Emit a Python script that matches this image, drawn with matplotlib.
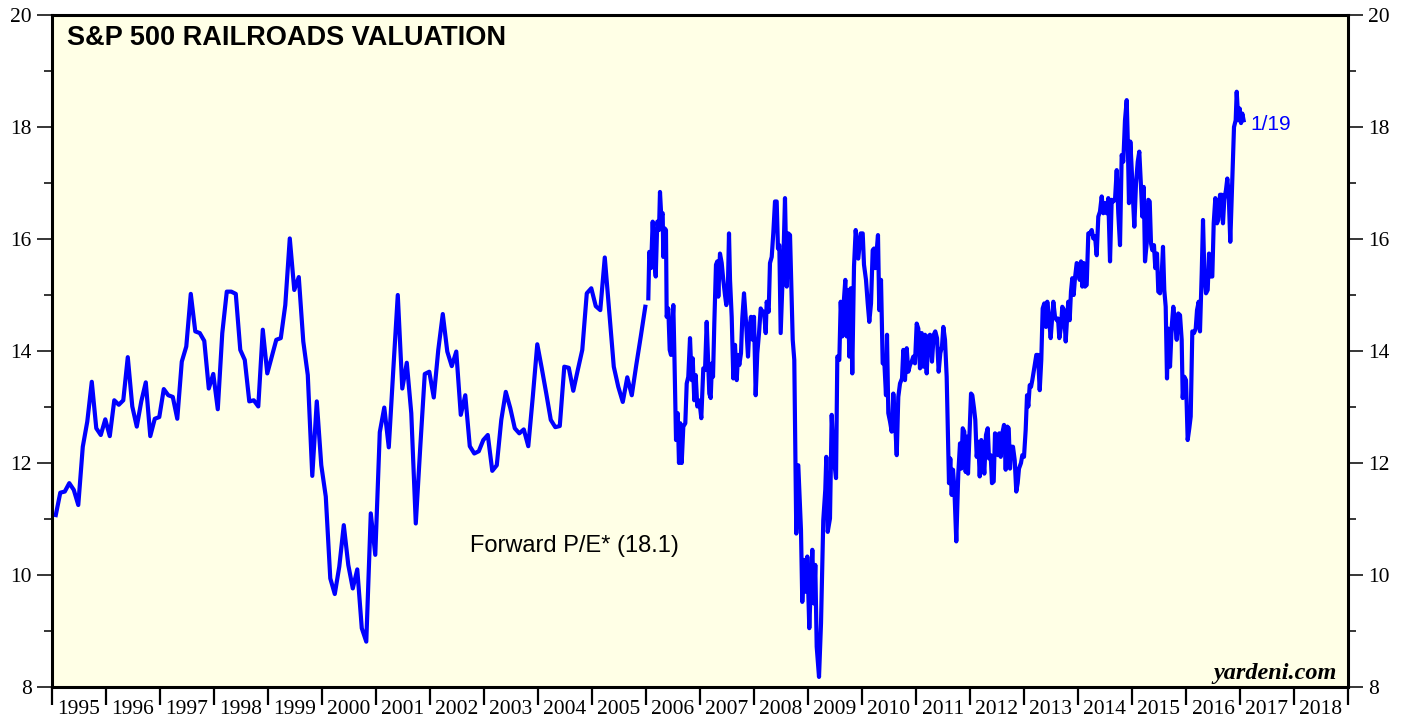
import numpy as np
import matplotlib
matplotlib.use("Agg")
import matplotlib.pyplot as plt
from matplotlib.ticker import MultipleLocator, FixedLocator, NullFormatter

# monthly forward P/E, Jan 1995 onwards
monthly_start = 1995.07
monthly_pe = [
    11.07, 11.47, 11.49, 11.64, 11.52, 11.25, 12.29, 12.74, 13.45, 12.62, 12.50, 12.78,
    12.48, 13.12, 13.04, 13.12, 13.89, 13.01, 12.65, 13.10, 13.44, 12.48, 12.79, 12.82,
    13.32, 13.21, 13.18, 12.79, 13.81, 14.08, 15.02, 14.35, 14.32, 14.18, 13.33, 13.59,
    12.96, 14.32, 15.06, 15.06, 15.02, 14.02, 13.84, 13.10, 13.12, 13.01, 14.38, 13.60,
    13.90, 14.20, 14.23, 14.82, 16.01, 15.09, 15.32, 14.17, 13.57, 11.77, 13.10, 11.96,
    11.40, 9.94, 9.66, 10.15, 10.89, 10.18, 9.76, 10.10, 9.05, 8.81, 11.10, 10.36,
    12.55, 12.99, 12.28, 13.66, 15.00, 13.33, 13.79, 12.89, 10.92, 12.29, 13.59, 13.63,
    13.17, 14.02, 14.66, 13.99, 13.73, 13.99, 12.86, 13.21, 12.30, 12.17, 12.21, 12.41,
    12.50, 11.86, 11.96, 12.77, 13.27, 12.98, 12.62, 12.53, 12.60, 12.30, 13.18, 14.12,
    13.69, 13.24, 12.77, 12.64, 12.66, 13.72, 13.70, 13.29, 13.66, 14.02, 15.03, 15.12,
    14.80, 14.73, 15.67, 14.70, 13.72, 13.36, 13.09, 13.53, 13.21, 13.75, 14.26, 14.79,
]

# weekly forward P/E from 2006 (decimal years, values)
weekly_dates = [
    2006.043, 2006.061, 2006.093, 2006.124, 2006.154, 2006.180, 2006.209, 2006.241, 2006.259, 2006.283,
    2006.309, 2006.320, 2006.346, 2006.370, 2006.383, 2006.413, 2006.439, 2006.463, 2006.506, 2006.524,
    2006.556, 2006.587, 2006.611, 2006.635, 2006.661, 2006.691, 2006.728, 2006.754, 2006.783, 2006.815,
    2006.846, 2006.865, 2006.894, 2006.920, 2006.950, 2006.976, 2007.000, 2007.024, 2007.061, 2007.093,
    2007.124, 2007.172, 2007.198, 2007.222, 2007.241, 2007.265, 2007.296, 2007.320, 2007.339, 2007.370,
    2007.402, 2007.431, 2007.463, 2007.487, 2007.513, 2007.537, 2007.556, 2007.587, 2007.617, 2007.648,
    2007.680, 2007.704, 2007.728, 2007.759, 2007.783, 2007.815, 2007.852, 2007.889, 2007.913, 2007.944,
    2007.976, 2008.000, 2008.031, 2008.061, 2008.093, 2008.124, 2008.154, 2008.185, 2008.217, 2008.235,
    2008.272, 2008.296, 2008.328, 2008.357, 2008.389, 2008.420, 2008.444, 2008.469, 2008.494, 2008.550,
    2008.574, 2008.606, 2008.635, 2008.667, 2008.717, 2008.746, 2008.783, 2008.820, 2008.870, 2008.894,
    2008.926, 2008.957, 2008.987, 2009.024, 2009.056, 2009.080, 2009.111, 2009.135, 2009.161, 2009.204,
    2009.241, 2009.283, 2009.320, 2009.339, 2009.365, 2009.407, 2009.439, 2009.469, 2009.519, 2009.543,
    2009.580, 2009.606, 2009.635, 2009.667, 2009.691, 2009.717, 2009.741, 2009.765, 2009.791, 2009.820,
    2009.852, 2009.883, 2009.931, 2009.976, 2010.013, 2010.037, 2010.074, 2010.106, 2010.135, 2010.167,
    2010.198, 2010.222, 2010.246, 2010.272, 2010.296, 2010.320, 2010.352, 2010.383, 2010.413, 2010.444,
    2010.463, 2010.487, 2010.519, 2010.550, 2010.580, 2010.611, 2010.643, 2010.672, 2010.704, 2010.741,
    2010.765, 2010.796, 2010.828, 2010.857, 2010.889, 2010.920, 2010.950, 2010.981, 2011.013, 2011.043,
    2011.074, 2011.106, 2011.135, 2011.167, 2011.198, 2011.228, 2011.259, 2011.296, 2011.328, 2011.357,
    2011.389, 2011.420, 2011.450, 2011.481, 2011.506, 2011.537, 2011.568, 2011.611, 2011.635, 2011.661,
    2011.685, 2011.709, 2011.746, 2011.783, 2011.815, 2011.839, 2011.865, 2011.894, 2011.920, 2011.944,
    2011.963, 2011.987, 2012.019, 2012.043, 2012.074, 2012.098, 2012.124, 2012.154, 2012.180, 2012.209,
    2012.235, 2012.265, 2012.296, 2012.328, 2012.352, 2012.383, 2012.407, 2012.439, 2012.463, 2012.494,
    2012.519, 2012.543, 2012.569, 2012.598, 2012.630, 2012.661, 2012.691, 2012.717, 2012.741, 2012.765,
    2012.796, 2012.828, 2012.857, 2012.883, 2012.907, 2012.944, 2012.969, 2013.000, 2013.031, 2013.056,
    2013.080, 2013.106, 2013.130, 2013.154, 2013.180, 2013.204, 2013.228, 2013.259, 2013.291, 2013.320,
    2013.346, 2013.376, 2013.407, 2013.431, 2013.463, 2013.494, 2013.519, 2013.543, 2013.574, 2013.606,
    2013.630, 2013.654, 2013.685, 2013.709, 2013.741, 2013.772, 2013.796, 2013.820, 2013.846, 2013.870,
    2013.894, 2013.920, 2013.944, 2013.976, 2014.006, 2014.031, 2014.056, 2014.080, 2014.106, 2014.130,
    2014.161, 2014.191, 2014.222, 2014.254, 2014.283, 2014.315, 2014.346, 2014.376, 2014.407, 2014.439,
    2014.469, 2014.500, 2014.531, 2014.561, 2014.593, 2014.624, 2014.654, 2014.685, 2014.717, 2014.746,
    2014.778, 2014.809, 2014.839, 2014.870, 2014.902, 2014.920, 2014.944, 2014.969, 2014.994, 2015.019,
    2015.043, 2015.074, 2015.106, 2015.135, 2015.167, 2015.191, 2015.217, 2015.241, 2015.272, 2015.302,
    2015.328, 2015.352, 2015.376, 2015.407, 2015.431, 2015.463, 2015.487, 2015.519, 2015.550, 2015.574,
    2015.598, 2015.624, 2015.648, 2015.672, 2015.704, 2015.735, 2015.765, 2015.796, 2015.828, 2015.857,
    2015.889, 2015.920, 2015.939, 2015.969, 2016.000, 2016.031, 2016.061, 2016.087, 2016.117, 2016.148,
    2016.180, 2016.204, 2016.235, 2016.259, 2016.291, 2016.315, 2016.339, 2016.370, 2016.402, 2016.426,
    2016.457, 2016.487, 2016.513, 2016.543, 2016.574, 2016.598, 2016.630, 2016.661, 2016.685, 2016.709,
    2016.741, 2016.765, 2016.791, 2016.820, 2016.857, 2016.889, 2016.920, 2016.939, 2016.969, 2016.994,
    2017.019, 2017.043, 2017.067,
]
weekly_pe = [
    14.94, 15.77, 15.48, 16.31, 15.62, 15.33, 16.31, 16.16, 16.84, 16.40,
    16.46, 15.68, 16.19, 16.16, 14.61, 14.76, 14.02, 13.93, 14.82, 14.02,
    12.41, 12.89, 12.00, 12.71, 12.00, 12.65, 12.71, 13.42, 13.54, 14.23,
    13.48, 13.87, 13.12, 13.57, 13.01, 13.12, 13.01, 12.80, 13.69, 13.66,
    14.52, 13.24, 13.16, 13.78, 13.54, 14.49, 15.54, 15.60, 14.97, 15.74,
    15.57, 15.27, 15.00, 14.82, 14.97, 16.10, 15.27, 14.61, 13.51, 14.11,
    13.48, 13.93, 13.75, 13.96, 14.58, 15.03, 14.52, 13.90, 14.38, 14.61,
    14.20, 14.61, 13.21, 13.96, 14.32, 14.76, 14.70, 14.70, 14.32, 14.88,
    14.70, 15.57, 15.68, 16.10, 16.67, 16.67, 15.83, 15.89, 14.32, 15.86,
    16.73, 15.15, 16.10, 16.07, 14.20, 13.84, 10.74, 11.96, 10.80, 9.52,
    10.27, 9.70, 10.33, 9.05, 9.91, 10.45, 9.49, 10.18, 8.72, 8.18,
    9.14, 10.98, 11.52, 12.11, 10.77, 11.01, 12.86, 12.17, 11.73, 13.90,
    13.84, 14.88, 14.26, 14.94, 15.27, 14.26, 15.09, 13.90, 15.12, 13.60,
    15.51, 16.16, 15.65, 16.10, 16.10, 15.54, 15.27, 14.85, 14.52, 14.85,
    15.80, 15.83, 15.48, 15.80, 16.07, 14.73, 15.27, 13.78, 13.81, 13.21,
    14.29, 12.89, 12.74, 12.56, 13.24, 12.77, 12.14, 13.18, 13.42, 13.51,
    14.02, 13.48, 14.05, 13.63, 13.75, 13.81, 13.90, 13.78, 14.49, 14.40,
    13.69, 14.32, 13.72, 14.29, 13.60, 14.26, 14.29, 13.81, 14.29, 14.35,
    14.23, 13.63, 13.96, 14.08, 14.43, 14.20, 13.54, 11.64, 12.08, 11.43,
    11.88, 11.58, 10.60, 11.81, 12.35, 11.90, 12.62, 12.56, 11.84, 12.47,
    11.81, 12.41, 13.24, 13.21, 12.98, 12.77, 12.11, 12.38, 11.76, 12.41,
    12.17, 11.81, 12.50, 12.62, 12.08, 12.14, 11.64, 11.67, 12.53, 12.50,
    12.14, 12.53, 12.11, 12.53, 12.68, 11.88, 12.65, 12.62, 11.90, 12.29,
    12.29, 12.05, 11.49, 11.64, 11.90, 12.00, 12.14, 12.11, 12.59, 13.21,
    13.01, 13.39, 13.36, 13.48, 13.63, 13.78, 13.93, 13.93, 13.30, 13.84,
    14.76, 14.85, 14.43, 14.88, 14.58, 14.23, 14.55, 14.88, 14.61, 14.55,
    14.58, 14.23, 14.43, 14.79, 14.73, 14.17, 14.55, 14.88, 14.55, 15.06,
    15.30, 15.00, 15.30, 15.57, 15.54, 15.27, 15.60, 15.15, 15.57, 15.15,
    15.18, 16.10, 16.10, 16.16, 16.01, 16.05, 15.71, 16.40, 16.49, 16.76,
    16.46, 16.64, 16.46, 16.73, 15.60, 16.70, 16.67, 16.70, 17.23, 16.46,
    15.89, 17.50, 17.38, 18.12, 18.48, 17.83, 16.64, 17.74, 17.26, 16.70,
    16.22, 16.99, 17.38, 17.56, 16.93, 16.40, 16.93, 15.60, 15.92, 16.70,
    16.67, 15.92, 15.80, 15.89, 15.48, 15.74, 15.06, 15.03, 15.36, 15.86,
    15.09, 14.79, 13.51, 14.40, 13.72, 14.43, 14.79, 14.52, 14.20, 14.67,
    14.64, 14.20, 13.16, 13.54, 13.48, 12.41, 12.62, 12.83, 14.35, 14.32,
    14.40, 14.73, 14.88, 14.35, 15.39, 16.34, 15.42, 15.03, 15.09, 15.74,
    15.33, 15.33, 16.28, 16.73, 16.28, 16.34, 16.79, 16.79, 16.28, 16.70,
    16.88, 17.08, 16.79, 15.95, 17.02, 18.00, 18.12, 18.63, 18.12, 18.33,
    18.07, 18.24, 18.12,
]

years = list(range(1995, 2019))
bg = "#ffffe6"
blue = "#0000ff"
serif = "Liberation Serif"
sans = "Liberation Sans"

monthly_dates = monthly_start + np.arange(len(monthly_pe)) / 12.0

fig = plt.figure(figsize=(14.08, 7.21), dpi=100)
ax = fig.add_axes([52 / 1408, 1 - 687 / 721, 1296 / 1408, 672 / 721])
ax.set_facecolor(bg)

ax.plot(monthly_dates, monthly_pe, color=blue, lw=3.0, solid_joinstyle="round")
ax.plot(weekly_dates, weekly_pe, color=blue, lw=3.0, solid_joinstyle="round")

ax.set_xlim(1995, 2019)
ax.set_ylim(8, 20)

# year ticks at boundaries, labels centred in between
ax.xaxis.set_major_locator(FixedLocator(list(range(1995, 2020))))
ax.xaxis.set_major_formatter(NullFormatter())
ax.xaxis.set_minor_locator(FixedLocator([y + 0.5 for y in years]))
ax.set_xticklabels([str(y) for y in years], minor=True, family=serif, fontsize=15.5)
ax.tick_params(axis="x", which="major", direction="out", length=13, width=1.6, color="black")
ax.tick_params(axis="x", which="minor", length=0, pad=9)

ax.yaxis.set_major_locator(MultipleLocator(2))
ax.yaxis.set_minor_locator(MultipleLocator(1))
ax.tick_params(axis="y", which="both", left=True, right=True, labelleft=True, labelright=True,
               direction="out", labelsize=15.5)
ax.tick_params(axis="y", which="major", length=11, width=1.1, pad=3.5)
ax.tick_params(axis="y", which="minor", length=6, width=1.1)
for t in ax.yaxis.get_major_ticks():
    t.label1.set_family(serif)
    t.label2.set_family(serif)

for s in ax.spines.values():
    s.set_linewidth(2.2)

ax.text(0.0112, 0.955, "S&P 500 RAILROADS VALUATION", transform=ax.transAxes,
        ha="left", va="baseline", fontsize=19.5, fontweight="bold", family=sans)
ax.text(2002.74, 10.41, "Forward P/E* (18.1)", ha="left", va="baseline",
        fontsize=17, family=sans)
ax.text(2017.20, 17.95, "1/19", ha="left", va="baseline", fontsize=15,
        color=blue, family=sans)
ax.text(0.9915, 0.012, "yardeni.com", transform=ax.transAxes, ha="right", va="baseline",
        fontsize=17.5, fontweight="bold", fontstyle="italic", family=serif)

fig.savefig("out.png", dpi=100, facecolor="white")
